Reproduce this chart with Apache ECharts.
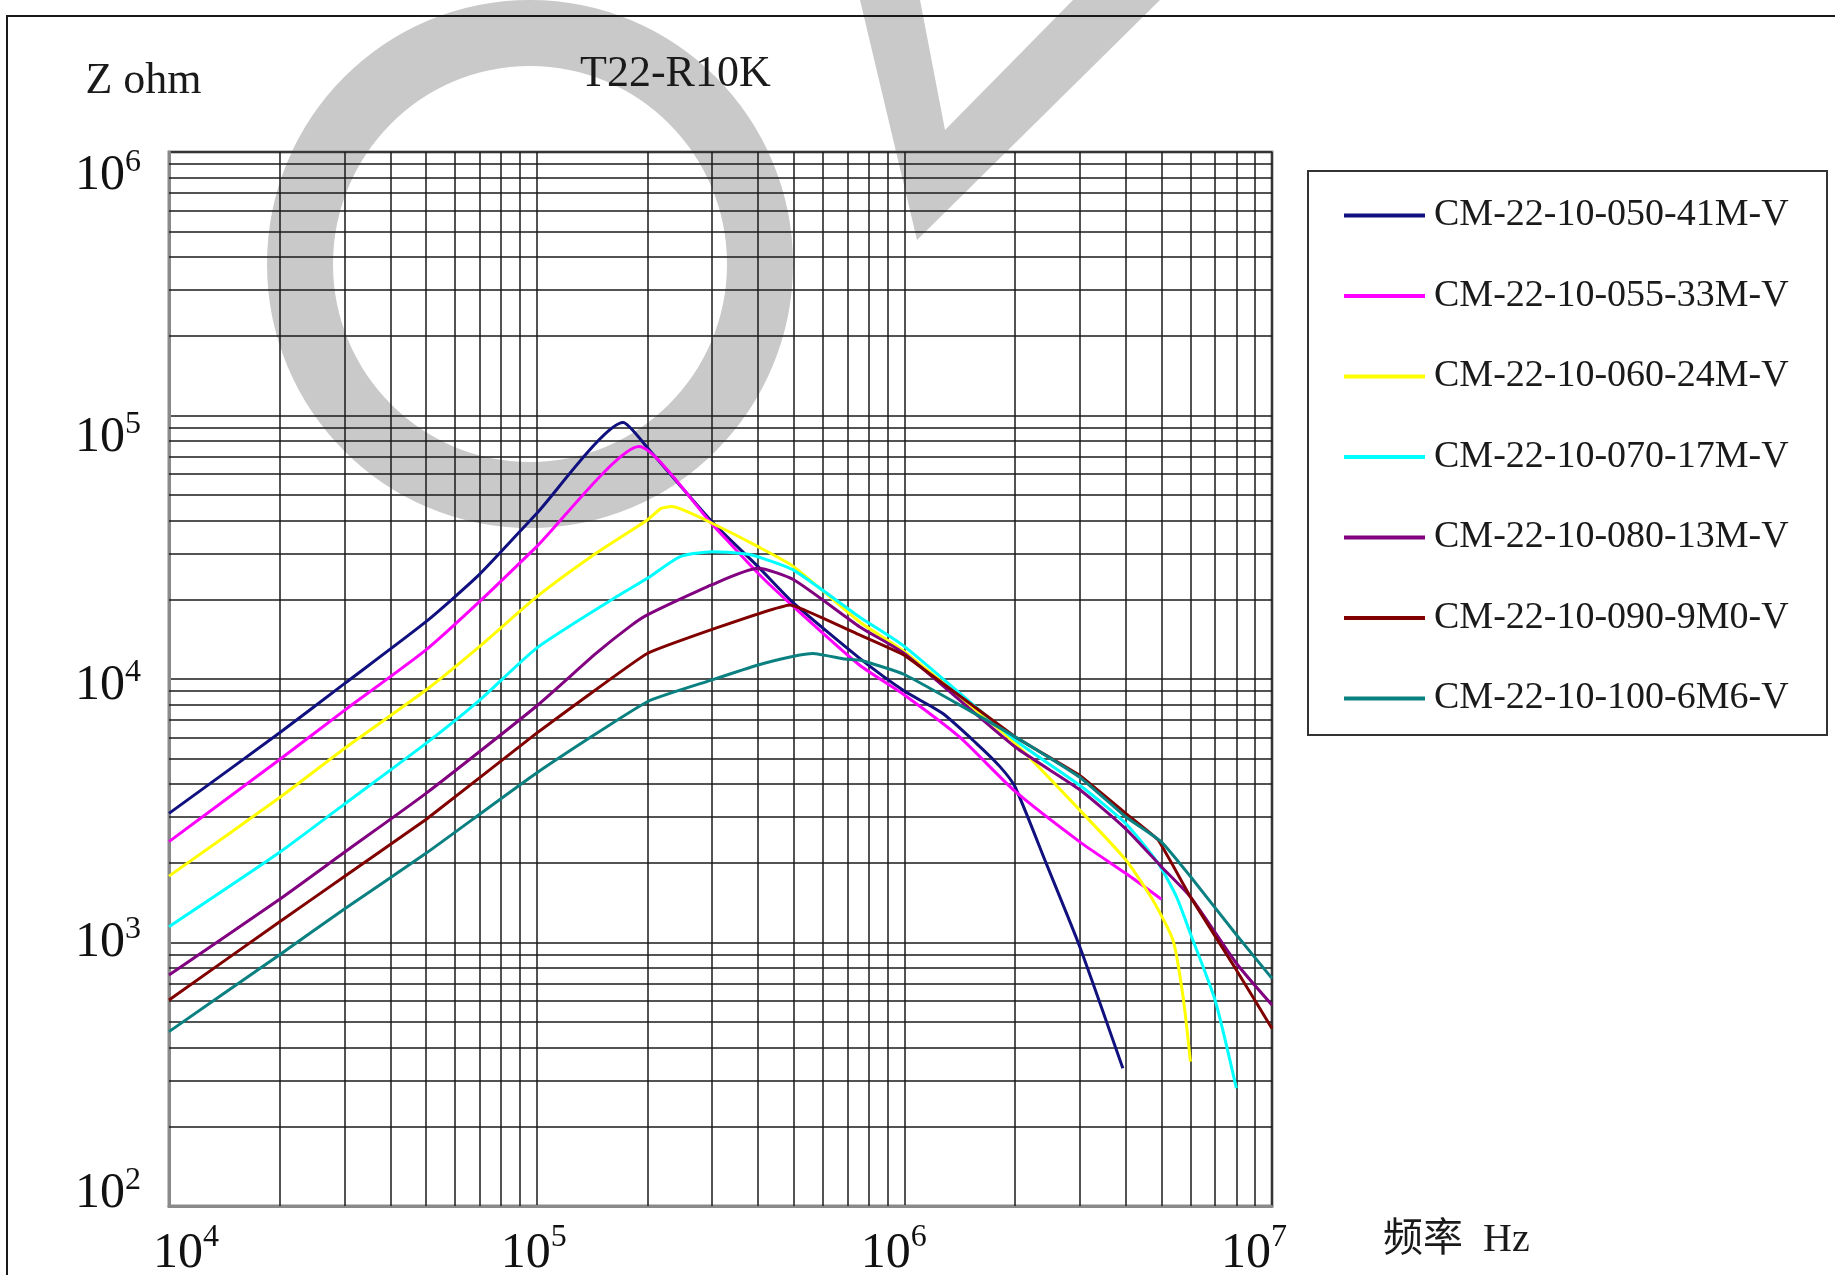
<!DOCTYPE html>
<html>
<head>
<meta charset="utf-8">
<script src="https://cdn.jsdelivr.net/npm/echarts@6/dist/echarts.min.js"></script>
<style>
html,body{margin:0;padding:0;background:#fff;}
#chart{width:1835px;height:1275px;}
</style>
</head>
<body>
<div id="chart"></div>
<script>
// ---- data (frequency in Hz, impedance in ohm) ----
const seriesNames = ['CM-22-10-050-41M-V','CM-22-10-055-33M-V','CM-22-10-060-24M-V','CM-22-10-070-17M-V','CM-22-10-080-13M-V','CM-22-10-090-9M0-V','CM-22-10-100-6M6-V'];
const seriesColors = ['#10107f','#ff00ff','#ffff00','#00ffff','#800080','#800000','#0a8080'];

const freq050 = [1e4, 2e4, 3e4, 5e4, 7e4, 1e5, 1.72e5, 2e5, 3e5, 4e5, 5e5, 7.55e5, 1e6, 1.27e6, 1.57e6, 1.82e6, 2e6, 2.43e6, 3e6, 3.93e6];
const imp050  = [3090, 6250, 9600, 16500, 25000, 42500, 94000, 75500, 39500, 26700, 19400, 12000, 9000, 7410, 5700, 4650, 3900, 2000, 964, 333];

const freq055 = [1e4, 2e4, 3e4, 5e4, 7e4, 1e5, 1.9e5, 3e5, 4e5, 5e5, 7.55e5, 1e6, 1.41e6, 2e6, 3e6, 4e6, 5e6];
const imp055  = [2414, 4950, 7600, 12900, 19700, 31800, 76200, 38700, 25200, 18800, 11300, 8700, 6040, 3750, 2410, 1830, 1460];

const freq060 = [1e4, 2e4, 3e4, 5e4, 7e4, 1e5, 1.45e5, 2e5, 2.18e5, 2.32e5, 2.5e5, 3e5, 4e5, 5e5, 7.55e5, 1e6, 2e6, 3e6, 4e6, 4.74e6, 5.38e6, 5.73e6, 6e6];
const imp060  = [1786, 3550, 5450, 9080, 13300, 20500, 30000, 40100, 44400, 45100, 43800, 39000, 31800, 26700, 16500, 12700, 5700, 3180, 2060, 1450, 1020, 622, 353];

const freq070 = [1e4, 2e4, 3e4, 5e4, 7e4, 1e5, 1.6e5, 2e5, 2.45e5, 3e5, 3.72e5, 4e5, 5e5, 7.55e5, 1e6, 2e6, 3e6, 4e6, 4.9e6, 5.5e6, 6e6, 7e6, 8e6];
const imp070  = [1148, 2200, 3350, 5700, 8320, 13100, 20000, 24100, 29100, 30400, 29800, 29100, 25900, 17200, 13300, 5870, 3950, 2830, 2000, 1490, 1080, 605, 280];

const freq080 = [1e4, 2e4, 3e4, 5e4, 1e5, 1.45e5, 1.79e5, 2e5, 3e5, 4e5, 5e5, 7.55e5, 1e6, 2e6, 3e6, 4e6, 5e6, 6e6, 8e6, 1e7];
const imp080  = [753, 1460, 2200, 3680, 7900, 12500, 15800, 17500, 22800, 26300, 23800, 15800, 12500, 5530, 3800, 2700, 1940, 1490, 834, 579];

const freq090 = [1e4, 2e4, 3e4, 5e4, 1e5, 2e5, 4.9e5, 7.55e5, 1e6, 2e6, 3e6, 4e6, 4.9e6, 6e6, 8e6, 1e7];
const imp090  = [605, 1199, 1780, 2930, 6230, 12500, 19100, 14700, 12300, 6040, 4300, 3090, 2450, 1490, 787, 472];

const freq100 = [1e4, 2e4, 3e4, 5e4, 1e5, 2e5, 3e5, 4e5, 5e5, 5.64e5, 6.9e5, 7.55e5, 1e6, 2e6, 3e6, 4e6, 5e6, 6e6, 8e6, 1e7];
const imp100  = [459, 899, 1340, 2180, 4400, 8200, 9920, 11300, 12200, 12500, 11900, 11800, 10400, 6040, 4240, 3000, 2410, 1780, 1070, 731];

// axis ticks (decades) and minor grid multipliers
const xDecades = [4, 5, 6, 7];
const yDecades = [2, 3, 4, 5, 6];
const minorMultipliers = [2, 3, 4, 5, 6, 7, 8, 9];

const freqs = [freq050, freq055, freq060, freq070, freq080, freq090, freq100];
const imps  = [imp050, imp055, imp060, imp070, imp080, imp090, imp100];
const smoothness = [0.2, 0.2, 0.2, 0.2, 0.2, 0.08, 0.15];

const SERIF = "'Liberation Serif', 'DejaVu Serif', serif";
const SERIF_CJK = "'Liberation Serif', 'Noto Sans CJK SC', serif";

// minor grid lines
const minorX = [];
for (let e = xDecades[0]; e < xDecades[xDecades.length - 1]; e++) minorMultipliers.forEach(m => minorX.push({xAxis: m * Math.pow(10, e)}));
const minorY = [];
for (let e = yDecades[0]; e < yDecades[yDecades.length - 1]; e++) minorMultipliers.forEach(m => minorY.push({yAxis: m * Math.pow(10, e)}));

// rich label styles (superscript exponents)
const xLabelShift = {4: 17, 5: -3, 6: -10.5, 7: -18};
const yLabelShift = {2: -12, 3: 0, 4: 7, 5: 22, 6: 24};
const xRich = {}, yRich = {};
xDecades.forEach(e => {
  const h = xLabelShift[e];
  xRich['b' + e] = {fontSize: 50, fontFamily: SERIF, color: '#111', lineHeight: 56, padding: [0, 0, 0, h > 0 ? 2 * h : 0]};
  xRich['s' + e] = {fontSize: 32, fontFamily: SERIF, color: '#111', lineHeight: 56, padding: [0, h < 0 ? -2 * h : 0, 32, 0]};
});
yDecades.forEach(e => {
  const d = yLabelShift[e];
  const ds = d - 13;
  yRich['b' + e] = {fontSize: 50, fontFamily: SERIF, color: '#111', lineHeight: 56, padding: [d > 0 ? 2 * d : 0, 0, d < 0 ? -2 * d : 0, 0]};
  yRich['s' + e] = {fontSize: 32, fontFamily: SERIF, color: '#111', lineHeight: 56, padding: [ds > 0 ? 2 * ds : 0, 0, ds < 0 ? -2 * ds : 0, 0]};
});
function expLabel(v) {
  const e = Math.round(Math.log10(v));
  return '{b' + e + '|10}{s' + e + '|' + e + '}';
}

const series = seriesNames.map((name, i) => ({
  type: 'line',
  name: name,
  data: freqs[i].map((f, j) => [f, imps[i][j]]),
  symbol: 'none',
  showSymbol: false,
  smooth: smoothness[i],
  z: 3,
  lineStyle: {color: seriesColors[i], width: 3},
  itemStyle: {color: seriesColors[i]},
  emphasis: {disabled: true},
  silent: true
}));

series.push({
  type: 'line',
  name: '__grid',
  data: [[1e4, 1e2]],
  symbol: 'none',
  silent: true,
  z: 1,
  lineStyle: {width: 0},
  markLine: {
    z: 1,
    silent: true,
    animation: false,
    symbol: ['none', 'none'],
    label: {show: false},
    emphasis: {disabled: true},
    lineStyle: {color: '#1a1a1a', width: 1.5, type: 'solid'},
    data: minorX.concat(minorY)
  }
});

const chart = echarts.init(document.getElementById('chart'), null, {renderer: 'canvas'});
chart.setOption({
  animation: false,
  backgroundColor: '#ffffff',
  title: {
    text: 'T22-R10K', left: 580, top: 52, padding: 0,
    textStyle: {fontSize: 44, fontWeight: 'normal', fontFamily: SERIF, color: '#1a1a1a'}
  },
  legend: {
    orient: 'vertical', left: 1344, top: 195.5, padding: 0,
    itemWidth: 81, itemHeight: 4, itemGap: 40.5,
    selectedMode: false,
    data: seriesNames.map(n => ({name: n, icon: 'rect'})),
    textStyle: {fontSize: 38, fontFamily: SERIF, color: '#1a1a1a', lineHeight: 40, padding: [0, 0, 0, 4]}
  },
  grid: {
    left: 169, top: 152, width: 1103, height: 1054,
    outerBoundsMode: 'none', containLabel: false,
    show: true, borderColor: '#8a8a8a', borderWidth: 3, backgroundColor: 'transparent'
  },
  xAxis: {
    type: 'log', logBase: 10, min: 1e4, max: 1e7,
    name: '{n|频率  Hz}', nameLocation: 'end', nameGap: 111, nameMoveOverlap: false,
    nameTextStyle: {align: 'left', verticalAlign: 'top',
      rich: {n: {fontSize: 40, fontFamily: SERIF_CJK, color: '#1a1a1a', lineHeight: 44, padding: [24, 0, 0, 0]}}},
    axisLine: {show: true, lineStyle: {color: '#8a8a8a', width: 3}},
    axisTick: {show: false},
    axisLabel: {margin: 20, formatter: expLabel, rich: xRich, showMinLabel: true, showMaxLabel: true},
    splitLine: {show: true, lineStyle: {color: '#1a1a1a', width: 1.5}},
    minorSplitLine: {show: false}
  },
  yAxis: {
    type: 'log', logBase: 10, min: 1e2, max: 1e6,
    name: 'Z ohm', nameLocation: 'end', nameGap: 39,
    nameTextStyle: {fontSize: 44, fontFamily: SERIF, color: '#1a1a1a', lineHeight: 44, padding: [0, 51, 0, 0], align: 'center'},
    axisLine: {show: true, lineStyle: {color: '#8a8a8a', width: 3}},
    axisTick: {show: false},
    axisLabel: {margin: 28, formatter: expLabel, rich: yRich, showMinLabel: true, showMaxLabel: true},
    splitLine: {show: true, lineStyle: {color: '#1a1a1a', width: 1.5}}
  },
  graphic: [
    // watermark
    {type: 'ellipse', z: -10, silent: true, shape: {cx: 530, cy: 264, rx: 230, ry: 231}, style: {fill: 'none', stroke: '#c9c9c9', lineWidth: 66}},
    {type: 'polygon', z: -10, silent: true, shape: {points: [[860, 0], [920, 0], [945, 130], [1073, 0], [1160, 0], [917, 240]]}, style: {fill: '#c9c9c9'}},
    // outer frame
    {type: 'rect', z: 10, silent: true, shape: {x: 7, y: 16, width: 1900, height: 1400}, style: {fill: 'none', stroke: '#1a1a1a', lineWidth: 2}},
    // legend box
    {type: 'rect', z: 10, silent: true, shape: {x: 1308, y: 171, width: 519, height: 564}, style: {fill: 'none', stroke: '#333', lineWidth: 2}}
  ],
  series: series
});
</script>
</body>
</html>
